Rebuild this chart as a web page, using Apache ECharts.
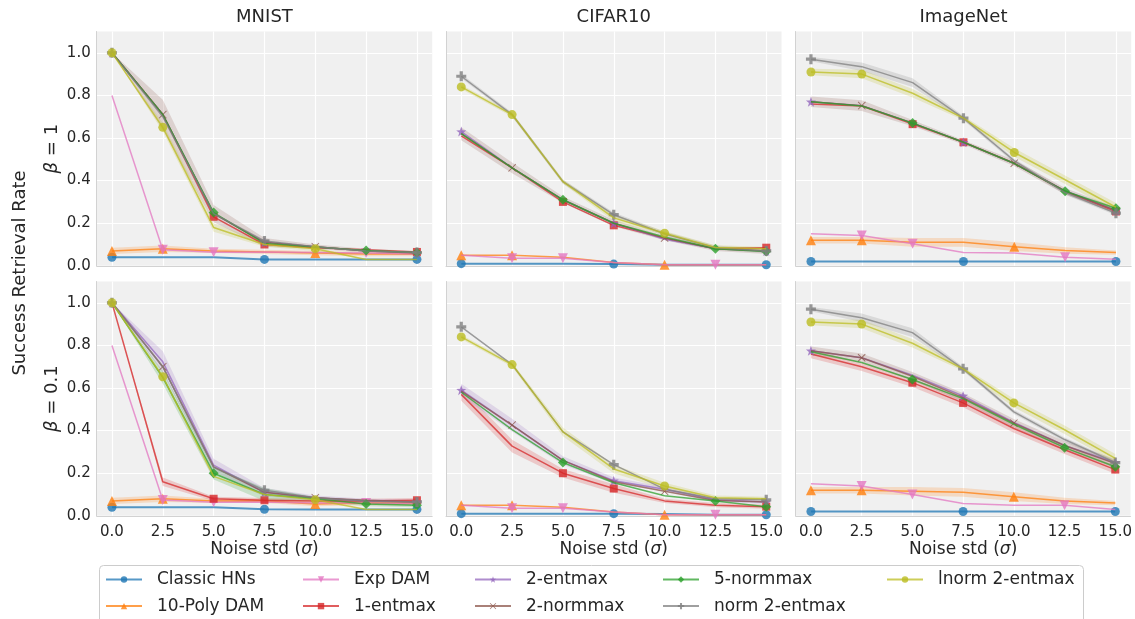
<!DOCTYPE html>
<html><head><meta charset="utf-8">
<script src="https://cdn.jsdelivr.net/npm/echarts@6/dist/echarts.min.js"></script>
<style>html,body{margin:0;padding:0;background:#fff}#c{width:1135px;height:619px}</style>
</head><body><div id="c"></div>
<script>
// ---------- data ----------
const noise = [0, 2.5, 5, 7.5, 10, 12.5, 15];
const xTicks = [0, 2.5, 5, 7.5, 10, 12.5, 15];
const yTicks = [0, 0.2, 0.4, 0.6, 0.8, 1.0];
const datasets = ['MNIST', 'CIFAR10', 'ImageNet'];
const betas = ['1', '0.1'];
const methods = ['Classic HNs', '10-Poly DAM', 'Exp DAM', '1-entmax', '2-entmax', '2-normmax', '5-normmax', 'norm 2-entmax', 'lnorm 2-entmax'];
const colors = ['#1f77b4', '#ff7f0e', '#e377c2', '#d62728', '#9467bd', '#8c564b', '#2ca02c', '#7f7f7f', '#bcbd22'];
const markerIdx = [[0,3,6],[0,1,4],[1,2,5],[2,3,6],[0,3,6],[1,4],[2,5,6],[0,3,6],[0,1,4]];

// rows follow `methods` order
const mnistBeta1 = [
  [0.04,0.04,0.04,0.03,0.03,0.03,0.03],
  [0.07,0.08,0.07,0.065,0.06,0.055,0.055],
  [0.80,0.075,0.064,0.065,0.062,0.06,0.055],
  [1.0,0.71,0.23,0.10,0.085,0.075,0.065],
  [1.0,0.71,0.245,0.11,0.09,0.07,0.062],
  [1.0,0.71,0.245,0.11,0.09,0.07,0.06],
  [1.0,0.71,0.25,0.105,0.088,0.072,0.062],
  [1.0,0.70,0.245,0.117,0.09,0.07,0.062],
  [1.0,0.65,0.18,0.10,0.08,0.03,0.03]
];
const cifarBeta1 = [
  [0.01,0.01,0.01,0.008,0.005,0.005,0.005],
  [0.05,0.05,0.04,0.015,0.005,0.005,0.005],
  [0.05,0.035,0.035,0.015,0.005,0.005,0.005],
  [0.61,0.46,0.30,0.19,0.13,0.08,0.085],
  [0.63,0.46,0.31,0.20,0.125,0.08,0.07],
  [0.62,0.46,0.31,0.20,0.13,0.08,0.07],
  [0.62,0.46,0.31,0.20,0.135,0.08,0.067],
  [0.89,0.71,0.395,0.24,0.15,0.085,0.07],
  [0.84,0.71,0.395,0.225,0.153,0.086,0.08]
];
const imagenetBeta1 = [
  [0.02,0.02,0.02,0.02,0.02,0.02,0.02],
  [0.12,0.12,0.11,0.11,0.09,0.072,0.062],
  [0.15,0.142,0.103,0.062,0.06,0.04,0.031],
  [0.76,0.75,0.665,0.58,0.48,0.35,0.255],
  [0.77,0.752,0.67,0.58,0.48,0.352,0.26],
  [0.77,0.752,0.67,0.58,0.482,0.35,0.26],
  [0.77,0.75,0.67,0.58,0.48,0.35,0.27],
  [0.97,0.935,0.86,0.693,0.493,0.344,0.247],
  [0.91,0.90,0.81,0.693,0.532,0.404,0.275]
];
const mnistBeta01 = [
  [0.04,0.04,0.04,0.031,0.03,0.03,0.03],
  [0.07,0.08,0.07,0.07,0.055,0.06,0.06],
  [0.80,0.074,0.064,0.065,0.06,0.06,0.055],
  [1.0,0.16,0.08,0.073,0.07,0.07,0.073],
  [1.0,0.723,0.238,0.11,0.085,0.07,0.065],
  [1.0,0.70,0.23,0.11,0.085,0.073,0.065],
  [1.0,0.65,0.20,0.10,0.08,0.055,0.05],
  [1.0,0.70,0.228,0.12,0.085,0.07,0.065],
  [1.0,0.653,0.185,0.10,0.075,0.03,0.03]
];
const cifarBeta01 = [
  [0.01,0.01,0.01,0.01,0.008,0.005,0.005],
  [0.05,0.05,0.04,0.018,0.005,0.005,0.005],
  [0.05,0.035,0.035,0.018,0.005,0.005,0.005],
  [0.57,0.327,0.20,0.128,0.07,0.05,0.043],
  [0.59,0.426,0.26,0.165,0.125,0.075,0.065],
  [0.585,0.426,0.26,0.16,0.115,0.072,0.065],
  [0.58,0.405,0.25,0.155,0.094,0.07,0.043],
  [0.887,0.71,0.394,0.24,0.125,0.08,0.075],
  [0.84,0.71,0.394,0.22,0.14,0.085,0.08]
];
const imagenetBeta01 = [
  [0.02,0.02,0.02,0.02,0.02,0.02,0.02],
  [0.12,0.12,0.115,0.11,0.09,0.07,0.06],
  [0.15,0.14,0.10,0.058,0.05,0.05,0.03],
  [0.76,0.70,0.625,0.53,0.41,0.31,0.217],
  [0.775,0.742,0.66,0.563,0.438,0.33,0.25],
  [0.775,0.742,0.655,0.555,0.435,0.33,0.245],
  [0.77,0.72,0.64,0.55,0.43,0.32,0.23],
  [0.97,0.93,0.86,0.69,0.488,0.358,0.25],
  [0.91,0.90,0.81,0.69,0.53,0.404,0.27]
];
// shaded spread (half width) : [method index, spread per noise level]
const bandsMnistBeta1 = [[1,[0.015,0.015,0.01,0.01,0.01,0.01,0.01]],[5,[0,0.07,0.04,0.02,0.01,0.01,0.01]],[8,[0,0.02,0.02,0.01,0.01,0,0]]];
const bandsCifarBeta1 = [[5,[0.03,0.025,0.015,0.015,0.01,0.01,0.015]],[7,[0.01,0.01,0.01,0.01,0.01,0.01,0.01]],[8,[0.01,0.01,0.01,0.015,0.01,0.01,0.01]]];
const bandsImagenetBeta1 = [[1,[0.015,0.015,0.02,0.02,0.02,0.015,0.01]],[5,[0.025,0.025,0.015,0.01,0.015,0.015,0.015]],[7,[0.01,0.02,0.02,0.01,0.01,0.01,0.01]],[8,[0.015,0.02,0.02,0.01,0.02,0.02,0.02]]];
const bandsMnistBeta01 = [[1,[0.015,0.015,0.01,0.01,0.01,0.01,0.01]],[3,[0,0.02,0.01,0.01,0.01,0.01,0.01]],[4,[0,0.05,0.03,0.02,0.01,0.01,0.01]],[6,[0,0.03,0.03,0.03,0.01,0.01,0.01]]];
const bandsCifarBeta01 = [[3,[0.03,0.03,0.02,0.02,0.01,0.01,0.01]],[4,[0.03,0.03,0.02,0.015,0.01,0.01,0.01]],[8,[0.01,0.01,0.02,0.02,0.015,0.01,0.01]]];
const bandsImagenetBeta01 = [[1,[0.015,0.015,0.02,0.02,0.02,0.015,0.01]],[3,[0.02,0.02,0.02,0.02,0.02,0.02,0.02]],[5,[0.02,0.02,0.02,0.02,0.02,0.02,0.02]],[7,[0.01,0.02,0.02,0.01,0.01,0.01,0.01]],[8,[0.015,0.02,0.02,0.01,0.02,0.02,0.02]]];

const panels = [mnistBeta1, cifarBeta1, imagenetBeta1, mnistBeta01, cifarBeta01, imagenetBeta01];
const panelBands = [bandsMnistBeta1, bandsCifarBeta1, bandsImagenetBeta1, bandsMnistBeta01, bandsCifarBeta01, bandsImagenetBeta01];

// ---------- styling ----------
const FONT = 'DejaVu Sans';
const TXT = '#262626';
const symbols = [
  'circle',
  'triangle',
  'path://M-1,-0.9L1,-0.9L0,0.9Z',
  'rect',
  'path://M0,-10L2.35,-3.24L9.51,-3.09L3.8,1.24L5.88,8.09L0,4L-5.88,8.09L-3.8,1.24L-9.51,-3.09L-2.35,-3.24Z',
  'path://M-5,-4.2L-4.2,-5L0,-0.8L4.2,-5L5,-4.2L0.8,0L5,4.2L4.2,5L0,0.8L-4.2,5L-5,4.2L-0.8,0Z',
  'path://M0,-1L1,0L0,1L-1,0Z',
  'path://M-1.6,-5H1.6V-1.6H5V1.6H1.6V5H-1.6V1.6H-5V-1.6H-1.6Z',
  'circle'
];
const symSizes = [9, 10, 10, 8, 10, 8, 10, 10, 9];
const lefts = [96.7, 446, 795.7], tops = [31.5, 281.5], W = 335.5, H = 234.3;

const grids = [], xAxes = [], yAxes = [], series = [], titles = [];
for (let r = 0; r < 2; r++) for (let c = 0; c < 3; c++) {
  const p = r * 3 + c;
  grids.push({left: lefts[c], top: tops[r], width: W, height: H, show: true, backgroundColor: '#f0f0f0', borderWidth: 0});
  xAxes.push({
    type: 'value', gridIndex: p, min: -0.75, max: 15.75,
    axisLine: {show: true, onZero: false, lineStyle: {color: '#d2d2d2', width: 1}},
    axisTick: {show: false, customValues: xTicks},
    axisLabel: {show: r === 1, customValues: xTicks, formatter: v => v.toFixed(1), margin: 9, fontSize: 15, color: TXT, fontFamily: FONT},
    splitLine: {show: true, lineStyle: {color: '#ffffff', width: 1.2}},
    name: r === 1 ? 'Noise std ({i|σ})' : '', nameLocation: 'middle', nameGap: 25,
    nameTextStyle: {fontSize: 17, color: TXT, fontFamily: FONT, rich: {i: {fontSize: 17, fontStyle: 'italic', color: TXT, fontFamily: FONT}}}
  });
  yAxes.push({
    type: 'value', gridIndex: p, min: 0, max: 1.1,
    axisLine: {show: true, onZero: false, lineStyle: {color: '#d2d2d2', width: 1}},
    axisTick: {show: false, customValues: yTicks},
    axisLabel: {show: c === 0, customValues: yTicks, formatter: v => v.toFixed(1), margin: 6, fontSize: 15, color: TXT, fontFamily: FONT},
    splitLine: {show: true, lineStyle: {color: '#ffffff', width: 1.2}},
    name: c === 0 ? '{i|β} = ' + betas[r] : '', nameLocation: 'middle', nameGap: 35,
    nameTextStyle: {fontSize: 18, color: TXT, fontFamily: FONT, rich: {i: {fontSize: 18, fontStyle: 'italic', color: TXT, fontFamily: FONT}}}
  });
  if (r === 0) titles.push({text: datasets[c], left: lefts[c] + W / 2, top: 8.5, textAlign: 'center', padding: 0,
    textStyle: {fontSize: 18, fontWeight: 'normal', color: TXT, fontFamily: FONT}});

  // shaded bands
  panelBands[p].forEach(([m, spread]) => {
    const vals = panels[p][m];
    series.push({
      type: 'custom', name: 'band' + p + '_' + m, xAxisIndex: p, yAxisIndex: p, silent: true, z: 1,
      data: [[noise[0], vals[0]]],
      renderItem: (params, api) => {
        const pts = [];
        for (let i = 0; i < noise.length; i++) pts.push(api.coord([noise[i], vals[i] + spread[i]]));
        for (let i = noise.length - 1; i >= 0; i--) pts.push(api.coord([noise[i], Math.max(0, vals[i] - spread[i])]));
        return {type: 'polygon', shape: {points: pts}, style: {fill: colors[m], opacity: 0.2}};
      }
    });
  });
  // lines
  methods.forEach((name, m) => {
    const vals = panels[p][m];
    series.push({
      type: 'line', name, xAxisIndex: p, yAxisIndex: p, z: 2 + m,
      data: noise.map((x, i) => [x, vals[i]]),
      symbol: symbols[m],
      symbolSize: (v, prm) => markerIdx[m].includes(prm.dataIndex) ? symSizes[m] : 0,
      showSymbol: true, showAllSymbol: true, clip: false,
      lineStyle: {color: colors[m], width: m === 0 ? 2 : 1.5, opacity: 0.75},
      itemStyle: {color: colors[m], opacity: 0.8},
      emphasis: {disabled: true}
    });
  });
}

const legendCols = [[0,1],[2,3],[4,5],[6,7],[8]];
const legendLefts = [105, 302, 474, 662, 886];
const legends = legendCols.map((ids, k) => ({
  orient: 'vertical', left: legendLefts[k], top: 569.5, padding: 0, itemGap: 6.6,
  itemWidth: 36, itemHeight: 8, selectedMode: false,
  data: ids.map(i => methods[i]),
  textStyle: {fontSize: 17, color: TXT, fontFamily: FONT, lineHeight: 20, padding: [0, 0, 0, 10]}
}));

const chart = echarts.init(document.getElementById('c'), null, {renderer: 'canvas'});
chart.setOption({
  animation: false,
  backgroundColor: '#ffffff',
  textStyle: {fontFamily: FONT},
  title: titles,
  grid: grids, xAxis: xAxes, yAxis: yAxes,
  legend: legends,
  series,
  graphic: [
    {type: 'rect', left: 99, top: 565, z: -1, shape: {width: 984, height: 62, r: 4},
     style: {fill: '#ffffff', stroke: '#cccccc', lineWidth: 1}},
    {type: 'text', x: 20, y: 273, rotation: Math.PI / 2,
     style: {text: 'Success Retrieval Rate', fontSize: 18, fontFamily: FONT, fill: TXT, textAlign: 'center', textVerticalAlign: 'middle'}}
  ]
});
</script></body></html>
